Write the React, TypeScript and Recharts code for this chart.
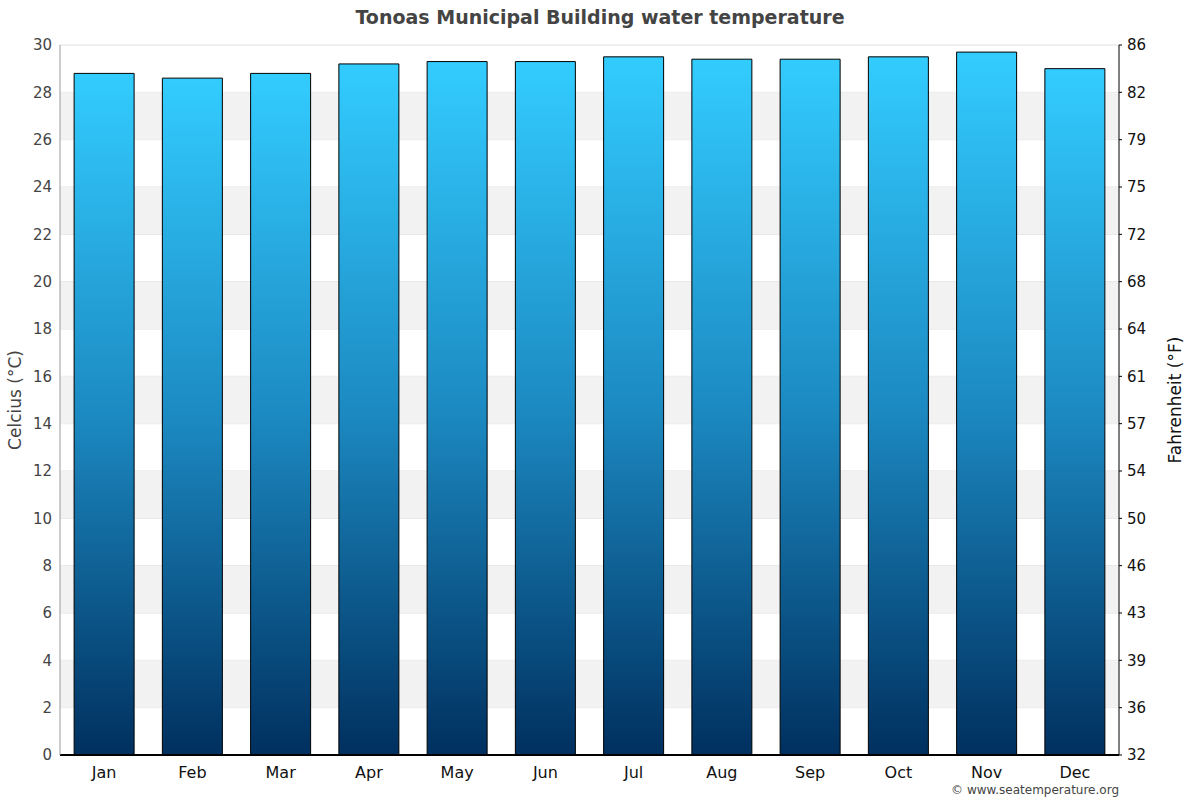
import React from "react";
import {
  ComposedChart,
  Bar,
  Line,
  XAxis,
  YAxis,
  CartesianGrid,
  ReferenceArea,
} from "recharts";

const months = ["Jan", "Feb", "Mar", "Apr", "May", "Jun", "Jul", "Aug", "Sep", "Oct", "Nov", "Dec"];
const waterTempC = [28.8, 28.6, 28.8, 29.2, 29.3, 29.3, 29.5, 29.4, 29.4, 29.5, 29.7, 29.0];
const celsiusTicks = [0, 2, 4, 6, 8, 10, 12, 14, 16, 18, 20, 22, 24, 26, 28, 30];
const bandStarts = [2, 6, 10, 14, 18, 22, 26];

const data = months.map((m, i) => ({ month: m, temp: waterTempC[i] }));

const FONT = "'DejaVu Sans', Verdana, sans-serif";

export default function App() {
  return (
    <div style={{ position: "absolute", left: 0, top: 0, width: 1200, height: 800, background: "#fff", fontFamily: FONT }}>
      <div
        style={{
          position: "absolute",
          top: 6,
          left: 0,
          width: 1200,
          textAlign: "center",
          fontSize: 19,
          fontWeight: "bold",
          color: "#444",
          fontFamily: FONT,
        }}
      >
        Tonoas Municipal Building water temperature
      </div>
      <ComposedChart
        width={1200}
        height={800}
        data={data}
        margin={{ top: 45, right: 0, bottom: 15, left: 0 }}
        barCategoryGap="16%"
        style={{ fontFamily: FONT }}
      >
        <defs>
          <linearGradient id="barGrad" x1="0" y1="0" x2="0" y2="1">
            <stop offset="0%" stopColor="#33ccff" />
            <stop offset="50%" stopColor="#1c8ac2" />
            <stop offset="100%" stopColor="#00305f" />
          </linearGradient>
        </defs>
        {bandStarts.map((b) => (
          <ReferenceArea
            key={b}
            yAxisId="left"
            y1={b}
            y2={b + 2}
            fill="#f2f2f2"
            fillOpacity={1}
            stroke="none"
            ifOverflow="hidden"
          />
        ))}
        <CartesianGrid yAxisId="left" vertical={false} stroke="#e0e0e0" />
        <XAxis
          dataKey="month"
          height={30}
          tickLine={false}
          axisLine={{ stroke: "#000", strokeWidth: 2 }}
          tick={{ fill: "#111", fontSize: 16, fontFamily: FONT }}
          tickMargin={6}
        />
        <YAxis
          yAxisId="left"
          width={60}
          domain={[0, 30]}
          ticks={celsiusTicks}
          interval={0}
          tickLine={false}
          tickSize={0}
          axisLine={{ stroke: "#999" }}
          tick={{ fill: "#444", fontSize: 15, fontFamily: FONT }}
          tickMargin={8}
          label={{
            value: "Celcius (°C)",
            angle: -90,
            position: "insideLeft",
            offset: 15,
            style: { fill: "#444", fontSize: 17, fontFamily: FONT, textAnchor: "middle" },
          }}
        />
        <YAxis
          yAxisId="right"
          orientation="right"
          width={81}
          domain={[0, 30]}
          ticks={celsiusTicks}
          interval={0}
          tickLine={{ stroke: "#000" }}
          tickSize={3}
          axisLine={{ stroke: "#000" }}
          tick={{ fill: "#111", fontSize: 15, fontFamily: FONT }}
          tickMargin={5}
          tickFormatter={(v: number) => String(Math.round((v * 9) / 5 + 32))}
          label={{
            value: "Fahrenheit (°F)",
            angle: -90,
            position: "insideRight",
            offset: 25,
            style: { fill: "#111", fontSize: 17, fontFamily: FONT, textAnchor: "middle" },
          }}
        />
        <Bar
          yAxisId="left"
          dataKey="temp"
          fill="url(#barGrad)"
          stroke="#000"
          strokeWidth={1}
          isAnimationActive={false}
        />
        <Line
          yAxisId="right"
          dataKey="temp"
          stroke="none"
          dot={false}
          activeDot={false}
          legendType="none"
          isAnimationActive={false}
        />
      </ComposedChart>
      <div
        style={{
          position: "absolute",
          top: 783,
          right: 81,
          fontSize: 12,
          color: "#444",
          fontFamily: FONT,
        }}
      >
        © www.seatemperature.org
      </div>
    </div>
  );
}
